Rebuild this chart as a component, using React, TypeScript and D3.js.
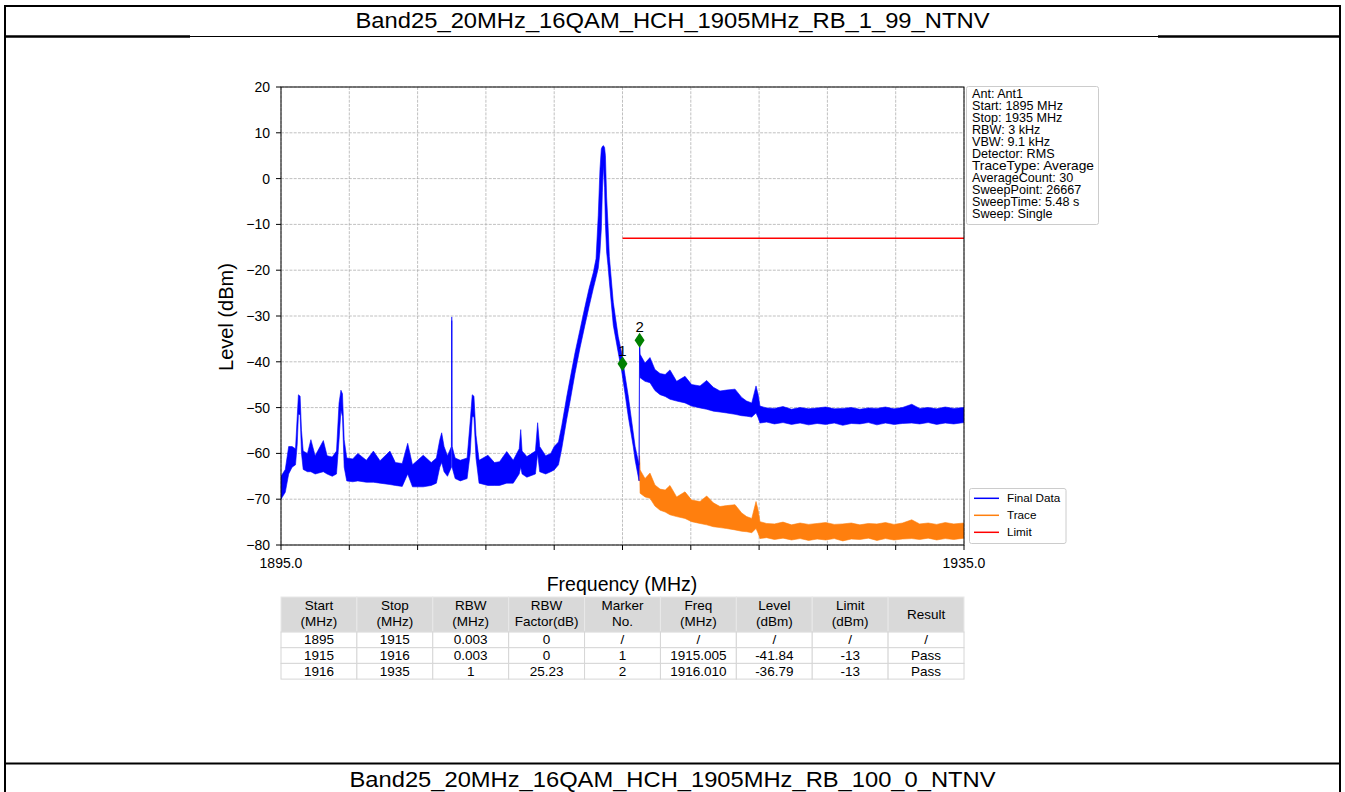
import React from 'react';
import * as d3 from 'd3';

// 标题
const titleTop = 'Band25_20MHz_16QAM_HCH_1905MHz_RB_1_99_NTNV';
const titleBottom = 'Band25_20MHz_16QAM_HCH_1905MHz_RB_100_0_NTNV';

// 坐标轴
const freqTicks = [1895, 1899, 1903, 1907, 1911, 1915, 1919, 1923, 1927, 1931, 1935];
const freqTickLabels = ['1895.0', '', '', '', '', '', '', '', '', '', '1935.0'];
const levelTicks = [20, 10, 0, -10, -20, -30, -40, -50, -60, -70, -80];

// Trace 包络 (MHz / dBm)
const traceFreq = [
  1895.0, 1895.25, 1895.45, 1895.65, 1895.85, 1895.95, 1896.02, 1896.12, 1896.2, 1896.3,
  1896.55, 1896.75, 1897.0, 1897.48, 1897.7, 1898.0, 1898.25, 1898.4, 1898.51, 1898.6,
  1898.7, 1898.85, 1899.2, 1899.5, 1900.0, 1900.41, 1900.8, 1901.38, 1901.7, 1902.1,
  1902.42, 1902.7, 1903.33, 1903.8, 1904.1, 1904.3, 1904.41, 1904.55, 1904.75, 1904.98,
  1905.0, 1905.02, 1905.2, 1905.5, 1905.9, 1906.08, 1906.2, 1906.3, 1906.42, 1906.6,
  1907.12, 1907.5, 1907.8, 1908.22, 1908.6, 1908.95, 1909.04, 1909.12, 1909.4, 1909.9,
  1910.03, 1910.15, 1910.5, 1910.8, 1911.0, 1911.25, 1911.44, 1911.73, 1911.93, 1912.22,
  1912.51, 1912.8, 1913.04, 1913.29, 1913.45, 1913.58, 1913.68, 1913.76, 1913.82, 1913.88,
  1913.95, 1914.0, 1914.07, 1914.15, 1914.23, 1914.46, 1914.75, 1914.95, 1915.15, 1915.34,
  1915.63, 1915.74, 1915.97, 1916.0, 1916.03, 1916.32, 1916.61, 1916.9, 1917.2, 1917.5,
  1917.78, 1918.17, 1918.66, 1919.05, 1919.54, 1919.93, 1920.32, 1920.71, 1921.1, 1921.59,
  1921.98, 1922.27, 1922.57, 1922.82, 1922.95, 1923.05, 1923.44, 1923.9, 1924.4, 1924.9,
  1925.4, 1925.9, 1926.4, 1926.9, 1927.4, 1927.9, 1928.4, 1928.9, 1929.4, 1929.9,
  1930.4, 1930.9, 1931.4, 1931.94, 1932.4, 1932.9, 1933.4, 1933.9, 1934.4, 1935.0,
];
const traceLow = [
  -70, -68.5, -64.5, -63, -62.5, -58, -51.5, -51.5, -60, -63.5,
  -64, -64, -64.5, -64, -64.5, -65, -64.5, -57, -50.5, -52,
  -63, -66, -66.2, -66, -66.3, -66.3, -66.5, -66.8, -67, -67.2,
  -64.5, -67.3, -67.3, -67, -66.5, -63, -62, -64, -65, -63,
  -31, -63, -65.5, -66, -65.5, -60, -52, -52, -61, -66.5,
  -67, -67, -67, -66.5, -66.5, -64.5, -63, -64.5, -65.2, -64.5,
  -60, -64, -64.5, -64, -63.6, -62.5, -59, -52.6, -48.6, -42.5,
  -37, -32, -28, -24, -21.6, -19.6, -16, -11, -3, 3,
  -2, -10, -16, -19, -22.5, -32, -38, -42, -47, -52,
  -58.5, -61.5, -66, -62, -68.7, -69.5, -69.8, -71.5, -72.4, -72.8,
  -73.4, -73.8, -74.2, -74.9, -75.3, -75.6, -76.0, -76.2, -76.4, -76.7,
  -77.0, -77.1, -77.3, -76.4, -77.5, -78.6, -78.4, -78.8, -78.5, -78.9,
  -78.6, -79.0, -78.7, -78.9, -78.6, -79.1, -78.7, -78.8, -78.5, -79.0,
  -78.6, -78.9, -78.7, -78.6, -78.8, -78.5, -78.9, -78.6, -78.8, -78.5,
];
const traceHigh = [
  -65, -63.5, -58.5, -58.5, -59, -52, -47.2, -47.5, -55, -59.5,
  -60, -57, -60.5, -57.2, -60.5, -60.8, -59.5, -49, -46.2, -47,
  -57, -61, -61.2, -60, -61.5, -59.5, -61.6, -59.5, -62, -62.2,
  -57.8, -62.5, -60.4, -62, -61, -57, -55.5, -58.5, -60.5, -58.5,
  -30.2, -58.5, -61, -61.5, -61, -53, -47.2, -47.5, -56, -61.5,
  -60.4, -62, -61.8, -59.6, -61.5, -59, -54.8, -59.5, -60.7, -59.5,
  -53.3, -58.5, -60.5, -60, -58.5, -57.5, -54, -47.7, -43.7, -38,
  -33, -28, -24, -20.5, -17.5, -8, 2, 6.5, 7, 7.2,
  6.8, 5, -4, -10, -17, -27, -34.5, -38, -43, -47.5,
  -55.5, -58.5, -62.5, -60.5, -63.6, -65.5, -64.3, -66.9, -67.8, -68.0,
  -67.0, -69.5, -68.4, -70.2, -70.5, -69.3, -70.8, -71.6, -71.4, -71.2,
  -73.0, -73.8, -74.2, -70.5, -72.5, -74.9, -75.3, -75.4, -75.0, -75.6,
  -75.2, -75.5, -75.3, -75.1, -75.5, -75.4, -75.2, -75.6, -75.3, -75.4,
  -75.1, -75.5, -75.2, -74.5, -75.4, -75.2, -75.5, -75.1, -75.4, -75.2,
];

// 表格
const segStart = [1895, 1915, 1916];
const segStop = [1915, 1916, 1935];
const segRbw = ['0.003', '0.003', '1'];
const segFactor = [0, 0, 25.23];
const segMarker = ['/', '1', '2'];
const segMarkerFreq = ['/', '1915.005', '1916.010'];
const segLevel = ['/', '-41.84', '-36.79'];
const segLimit = ['/', '-13', '-13'];
const segResult = ['/', 'Pass', 'Pass'];
const headerTop = ['Start', 'Stop', 'RBW', 'RBW', 'Marker', 'Freq', 'Level', 'Limit', 'Result'];
const headerBottom = ['(MHz)', '(MHz)', '(MHz)', 'Factor(dB)', 'No.', '(MHz)', '(dBm)', '(dBm)', ''];

// Marker（图中位置）
const markerLabels = ['1', '2'];
const markerFreq = [1915.0, 1916.0];
const markerLevel = [-40.4, -35.3];

// Limit
const limitFreq = [1915, 1935];
const limitLevel = -13;

const infoLines = [
  'Ant: Ant1',
  'Start: 1895 MHz',
  'Stop: 1935 MHz',
  'RBW: 3 kHz',
  'VBW: 9.1 kHz',
  'Detector: RMS',
  'TraceType: Average',
  'AverageCount: 30',
  'SweepPoint: 26667',
  'SweepTime: 5.48 s',
  'Sweep: Single',
];
const legendNames = ['Final Data', 'Trace', 'Limit'];

const BLUE = '#0000ff';
const ORANGE = '#ff7f0e';
const RED = '#ff0000';
const FONT = '"Liberation Sans", Arial, sans-serif';

type Pt = { f: number; lo: number; hi: number };

const App = () => {
  const W = 1345;
  const H = 792;
  const plot = { left: 281, right: 964, top: 87, bottom: 545 };

  const x = d3.scaleLinear().domain([1895, 1935]).range([plot.left, plot.right]);
  const y = d3.scaleLinear().domain([-80, 20]).range([plot.bottom, plot.top]);

  const factorAt = (f: number) => segFactor[Math.max(0, d3.bisectRight(segStart, f) - 1)];

  const trace: Pt[] = traceFreq.map((f, i) => ({ f, lo: traceLow[i], hi: traceHigh[i] }));
  const finalData: Pt[] = trace.map(d => ({ f: d.f, lo: d.lo + factorAt(d.f), hi: d.hi + factorAt(d.f) }));
  // Trace 只在和 Final Data 分开的地方可见
  const traceShown = trace.filter(d => d.f >= 1915.97);

  const area = d3.area<Pt>()
    .x(d => x(d.f))
    .y0(d => y(d.lo))
    .y1(d => y(d.hi));

  const cols = headerTop.length;
  const colW = (plot.right - plot.left) / cols;
  const tableTop = 597;
  const headerH = 35;
  const rowH = 15.7;
  const rows = segStart.map((s, i) => [
    String(s), String(segStop[i]), segRbw[i], String(segFactor[i]), segMarker[i],
    segMarkerFreq[i], segLevel[i], segLimit[i], segResult[i],
  ]);

  const diamond = 'M0,-7.5L5,0L0,7.5L-5,0Z';

  return (
    <svg width={W} height={H} style={{ position: 'absolute', left: 0, top: 0, background: '#fff' }}
      fontFamily={FONT}>
      <defs>
        <clipPath id="plotClip">
          <rect x={plot.left} y={plot.top} width={plot.right - plot.left} height={plot.bottom - plot.top} />
        </clipPath>
      </defs>
      <rect x={0} y={0} width={W} height={H} fill="#fff" />

      {/* 外框 */}
      <g stroke="#000">
        <line x1={4} x2={1341} y1={6} y2={6} strokeWidth={2} />
        <line x1={5} x2={5} y1={5} y2={H} strokeWidth={2} />
        <line x1={1340} x2={1340} y1={5} y2={H} strokeWidth={2} />
        <line x1={4} x2={190} y1={36.5} y2={36.5} strokeWidth={2.5} />
        <line x1={190} x2={1158} y1={36.5} y2={36.5} strokeWidth={1.2} />
        <line x1={1158} x2={1341} y1={36.5} y2={36.5} strokeWidth={2.5} />
        <line x1={4} x2={1341} y1={763.5} y2={763.5} strokeWidth={2} />
      </g>
      <text x={672.5} y={28} textAnchor="middle" fontSize={22} textLength={634} lengthAdjust="spacingAndGlyphs">{titleTop}</text>
      <text x={672.5} y={787} textAnchor="middle" fontSize={22} textLength={646} lengthAdjust="spacingAndGlyphs">{titleBottom}</text>

      {/* 网格 */}
      <g stroke="#b0b0b0" strokeWidth={0.8} strokeDasharray="2.96,1.28">
        {freqTicks.map(t => (
          <line key={'gx' + t} x1={x(t)} x2={x(t)} y1={plot.top} y2={plot.bottom} />
        ))}
        {levelTicks.map(t => (
          <line key={'gy' + t} x1={plot.left} x2={plot.right} y1={y(t)} y2={y(t)} />
        ))}
      </g>

      {/* 曲线 */}
      <g clipPath="url(#plotClip)">
        <path d={area(traceShown) || ''} fill={ORANGE} stroke={ORANGE} strokeWidth={0.6} strokeLinejoin="round" />
        <path d={area(finalData) || ''} fill={BLUE} stroke={BLUE} strokeWidth={0.6} strokeLinejoin="round" />
        <line x1={x(limitFreq[0])} x2={x(limitFreq[1])} y1={y(limitLevel)} y2={y(limitLevel)} stroke={RED} strokeWidth={1.5} />
      </g>

      {/* markers */}
      {markerFreq.map((f, i) => (
        <g key={'m' + i} transform={`translate(${x(f)},${y(markerLevel[i])})`}>
          <path d={diamond} fill="#008000" />
          <text y={-8} textAnchor="middle" fontSize={15}>{markerLabels[i]}</text>
        </g>
      ))}

      {/* 坐标轴 */}
      <rect x={plot.left} y={plot.top} width={plot.right - plot.left} height={plot.bottom - plot.top}
        fill="none" stroke="#000" strokeWidth={1} />
      <g fontSize={14} fill="#000">
        {freqTicks.map((t, i) => (
          <g key={'tx' + t}>
            <line x1={x(t)} x2={x(t)} y1={plot.bottom} y2={plot.bottom + 5} stroke="#000" />
            {freqTickLabels[i] && (
              <text x={x(t)} y={568} textAnchor="middle">{freqTickLabels[i]}</text>
            )}
          </g>
        ))}
        {levelTicks.map(t => (
          <g key={'ty' + t}>
            <line x1={plot.left - 5} x2={plot.left} y1={y(t)} y2={y(t)} stroke="#000" />
            <text x={270} y={y(t)} dy="0.35em" textAnchor="end">{t < 0 ? '\u2212' + Math.abs(t) : String(t)}</text>
          </g>
        ))}
      </g>
      <text x={622} y={591} textAnchor="middle" fontSize={19.5}>Frequency (MHz)</text>
      <text transform={`translate(233,317) rotate(-90)`} textAnchor="middle" fontSize={20}>Level (dBm)</text>

      {/* 信息框 */}
      <rect x={966.5} y={86.5} width={132} height={138} rx={2} fill="#fff" stroke="#cccccc" strokeWidth={1} />
      <g fontSize={12.6}>
        {infoLines.map((s, i) => (
          <text key={'info' + i} x={972} y={98 + i * 11.95} textLength={s === 'TraceType: Average' ? 122 : undefined}
            lengthAdjust="spacingAndGlyphs">{s}</text>
        ))}
      </g>

      {/* 图例 */}
      <rect x={969.5} y={488.5} width={96.5} height={55} rx={2} fill="#fff" stroke="#cccccc" strokeWidth={1} />
      {legendNames.map((n, i) => (
        <g key={'lg' + i} transform={`translate(0,${498.3 + i * 17})`}>
          <line x1={974} x2={999} y1={0} y2={0} stroke={[BLUE, ORANGE, RED][i]} strokeWidth={1.5} />
          <text x={1007} y={4} fontSize={11.7}>{n}</text>
        </g>
      ))}

      {/* 表格 */}
      <g fontSize={13.5}>
        {headerTop.map((h, c) => (
          <g key={'h' + c}>
            <rect x={plot.left + c * colW} y={tableTop} width={colW} height={headerH} fill="#d9d9d9" stroke="#e8e8e8" strokeWidth={1} />
            {headerBottom[c] ? (
              <>
                <text x={plot.left + (c + 0.5) * colW} y={tableTop + 13} textAnchor="middle">{h}</text>
                <text x={plot.left + (c + 0.5) * colW} y={tableTop + 29} textAnchor="middle">{headerBottom[c]}</text>
              </>
            ) : (
              <text x={plot.left + (c + 0.5) * colW} y={tableTop + 22} textAnchor="middle">{h}</text>
            )}
          </g>
        ))}
        {rows.map((r, ri) => (
          <g key={'r' + ri}>
            {r.map((v, c) => (
              <g key={'c' + c}>
                <rect x={plot.left + c * colW} y={tableTop + headerH + ri * rowH} width={colW} height={rowH}
                  fill="#fff" stroke="#d6d6d6" strokeWidth={1} />
                <text x={plot.left + (c + 0.5) * colW} y={tableTop + headerH + ri * rowH + 12.3} textAnchor="middle">{v}</text>
              </g>
            ))}
          </g>
        ))}
      </g>
    </svg>
  );
};

export default App;
